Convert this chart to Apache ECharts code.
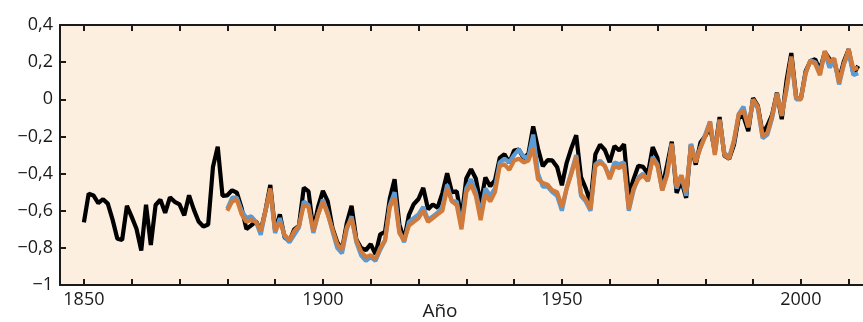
<!DOCTYPE html>
<html>
<head>
<meta charset="utf-8">
<script src="https://cdn.jsdelivr.net/npm/echarts@6/dist/echarts.min.js"></script>
<style>
  html, body { margin: 0; padding: 0; background: #fff; }
  #chart { width: 863px; height: 322px; }
</style>
</head>
<body>
<div id="chart"></div>
<script>
// anomalías anuales, serie negra desde 1850, azul y naranja desde 1880
var blackStart = 1850
var blackValues = [
  -0.663, -0.508, -0.518, -0.559, -0.538, -0.562, -0.648, -0.751, -0.757, -0.574,
  -0.633, -0.697, -0.814, -0.568, -0.784, -0.569, -0.541, -0.611, -0.528, -0.552,
  -0.566, -0.625, -0.517, -0.594, -0.658, -0.685, -0.674, -0.365, -0.255, -0.520,
  -0.517, -0.490, -0.503, -0.586, -0.699, -0.679, -0.657, -0.708, -0.597, -0.461,
  -0.706, -0.620, -0.745, -0.763, -0.700, -0.680, -0.476, -0.496, -0.702, -0.579,
  -0.493, -0.549, -0.692, -0.769, -0.810, -0.667, -0.573, -0.755, -0.801, -0.812,
  -0.780, -0.834, -0.727, -0.714, -0.534, -0.431, -0.673, -0.758, -0.623, -0.565,
  -0.537, -0.477, -0.592, -0.566, -0.584, -0.505, -0.398, -0.500, -0.496, -0.640,
  -0.427, -0.377, -0.427, -0.563, -0.421, -0.468, -0.437, -0.316, -0.296, -0.342,
  -0.276, -0.270, -0.317, -0.294, -0.146, -0.265, -0.361, -0.328, -0.329, -0.364,
  -0.463, -0.342, -0.262, -0.193, -0.419, -0.480, -0.557, -0.297, -0.244, -0.273,
  -0.339, -0.252, -0.276, -0.242, -0.513, -0.430, -0.358, -0.364, -0.403, -0.258,
  -0.317, -0.476, -0.355, -0.228, -0.504, -0.439, -0.531, -0.243, -0.352, -0.233,
  -0.198, -0.150, -0.279, -0.096, -0.304, -0.320, -0.245, -0.098, -0.092, -0.172,
  0.006, -0.036, -0.185, -0.142, -0.082, 0.035, -0.107, 0.100, 0.249, 0.016,
  0.004, 0.151, 0.206, 0.215, 0.157, 0.255, 0.216, 0.201, 0.105, 0.204,
  0.270, 0.135, 0.180
]

var colorStart = 1880
var blueValues = [
  -0.59, -0.53, -0.53, -0.60, -0.64, -0.63, -0.66, -0.73, -0.60, -0.49,
  -0.72, -0.64, -0.74, -0.77, -0.73, -0.69, -0.55, -0.57, -0.72, -0.62,
  -0.54, -0.61, -0.71, -0.80, -0.83, -0.70, -0.63, -0.77, -0.84, -0.87,
  -0.85, -0.87, -0.81, -0.76, -0.57, -0.50, -0.71, -0.77, -0.66, -0.64,
  -0.62, -0.58, -0.65, -0.63, -0.61, -0.58, -0.46, -0.55, -0.55, -0.68,
  -0.48, -0.43, -0.50, -0.62, -0.48, -0.52, -0.48, -0.34, -0.32, -0.34,
  -0.30, -0.27, -0.31, -0.31, -0.19, -0.40, -0.47, -0.47, -0.50, -0.52,
  -0.60, -0.48, -0.39, -0.30, -0.52, -0.55, -0.60, -0.35, -0.33, -0.36,
  -0.42, -0.34, -0.35, -0.34, -0.60, -0.49, -0.42, -0.40, -0.44, -0.31,
  -0.35, -0.49, -0.40, -0.24, -0.48, -0.41, -0.52, -0.24, -0.33, -0.26,
  -0.19, -0.12, -0.29, -0.11, -0.29, -0.31, -0.23, -0.08, -0.04, -0.15,
  -0.01, -0.05, -0.21, -0.19, -0.10, 0.03, -0.08, 0.05, 0.22, 0.00,
  0.00, 0.14, 0.21, 0.20, 0.14, 0.25, 0.17, 0.21, 0.08, 0.19,
  0.25, 0.13, 0.14
]
var orangeValues = [
  -0.60, -0.55, -0.54, -0.62, -0.66, -0.65, -0.66, -0.71, -0.60, -0.48,
  -0.71, -0.66, -0.73, -0.76, -0.71, -0.68, -0.57, -0.58, -0.71, -0.62,
  -0.55, -0.62, -0.70, -0.78, -0.81, -0.69, -0.64, -0.76, -0.82, -0.85,
  -0.84, -0.86, -0.80, -0.76, -0.58, -0.53, -0.72, -0.76, -0.68, -0.66,
  -0.64, -0.60, -0.66, -0.64, -0.62, -0.60, -0.48, -0.55, -0.57, -0.70,
  -0.50, -0.46, -0.52, -0.65, -0.51, -0.55, -0.50, -0.36, -0.35, -0.38,
  -0.33, -0.32, -0.34, -0.33, -0.26, -0.43, -0.45, -0.46, -0.49, -0.50,
  -0.58, -0.48, -0.40, -0.31, -0.51, -0.54, -0.59, -0.36, -0.34, -0.36,
  -0.43, -0.36, -0.37, -0.35, -0.59, -0.48, -0.43, -0.41, -0.44, -0.32,
  -0.36, -0.49, -0.41, -0.24, -0.47, -0.41, -0.50, -0.25, -0.34, -0.26,
  -0.20, -0.12, -0.30, -0.11, -0.30, -0.32, -0.22, -0.08, -0.06, -0.15,
  0.00, -0.04, -0.20, -0.18, -0.09, 0.03, -0.09, 0.06, 0.23, 0.01,
  0.00, 0.14, 0.21, 0.19, 0.13, 0.26, 0.20, 0.22, 0.09, 0.19,
  0.27, 0.16, 0.17
]

var tickYears = [1850, 1860, 1870, 1880, 1890, 1900, 1910, 1920, 1930, 1940, 1950, 1960, 1970, 1980, 1990, 2000, 2010]
var labelYears = [1850, 1900, 1950, 2000]

function pairs(start, values) {
  return values.map(function (v, i) { return [start + i, v] })
}

var fontName = 'Open Sans'
var ink = '#1a1a1a'

var chart = echarts.init(document.getElementById('chart'), null, { renderer: 'canvas' })
var option = {
  animation: false,
  backgroundColor: '#ffffff',
  grid: {
    left: 60, right: 0, top: 25, bottom: 37,
    show: true, backgroundColor: '#fdefdf', borderWidth: 0,
    containLabel: false, outerBoundsMode: 'none'
  },
  xAxis: [
    {
      type: 'value', min: 1845, max: 2013, position: 'bottom',
      name: 'Año', nameLocation: 'middle', nameGap: 17, nameMoveOverlap: false,
      nameTextStyle: { color: ink, fontSize: 19, fontFamily: fontName, padding: [0, 43, 0, 0] },
      axisLine: { show: true, onZero: false, lineStyle: { color: ink, width: 2 } },
      axisTick: { show: true, inside: true, length: 6, customValues: tickYears, lineStyle: { color: ink, width: 2 } },
      axisLabel: {
        show: true, customValues: labelYears, margin: 6, color: ink, fontSize: 18, fontFamily: fontName,
        formatter: function (v) { return String(v) }
      },
      splitLine: { show: false }
    },
    {
      type: 'value', min: 1845, max: 2013, position: 'top',
      axisLine: { show: true, onZero: false, lineStyle: { color: ink, width: 2 } },
      axisTick: { show: true, inside: true, length: 6, customValues: tickYears, lineStyle: { color: ink, width: 2 } },
      axisLabel: { show: false },
      splitLine: { show: false }
    }
  ],
  yAxis: {
    type: 'value', min: -1, max: 0.4, interval: 0.2,
    axisLine: { show: true, onZero: false, lineStyle: { color: ink, width: 2 } },
    axisTick: { show: true, inside: true, length: 6, lineStyle: { color: ink, width: 2 } },
    axisLabel: {
      margin: 7, color: ink, fontSize: 18, fontFamily: fontName,
      formatter: function (v) {
        var s = String(Math.round(v * 10) / 10)
        return s.replace('.', ',').replace('-', '\u2212')
      }
    },
    splitLine: { show: false }
  },
  series: [
    {
      name: 'negra', type: 'line', data: pairs(blackStart, blackValues),
      showSymbol: false, symbol: 'none',
      lineStyle: { color: '#000000', width: 4.2 }, z: 2
    },
    {
      name: 'azul', type: 'line', data: pairs(colorStart, blueValues),
      showSymbol: false, symbol: 'none',
      lineStyle: { color: '#5b9bd5', width: 4.2 }, z: 3
    },
    {
      name: 'naranja', type: 'line', data: pairs(colorStart, orangeValues),
      showSymbol: false, symbol: 'none',
      lineStyle: { color: '#d07a3c', width: 4.2 }, z: 4
    }
  ]
}
chart.setOption(option)
</script>
</body>
</html>
